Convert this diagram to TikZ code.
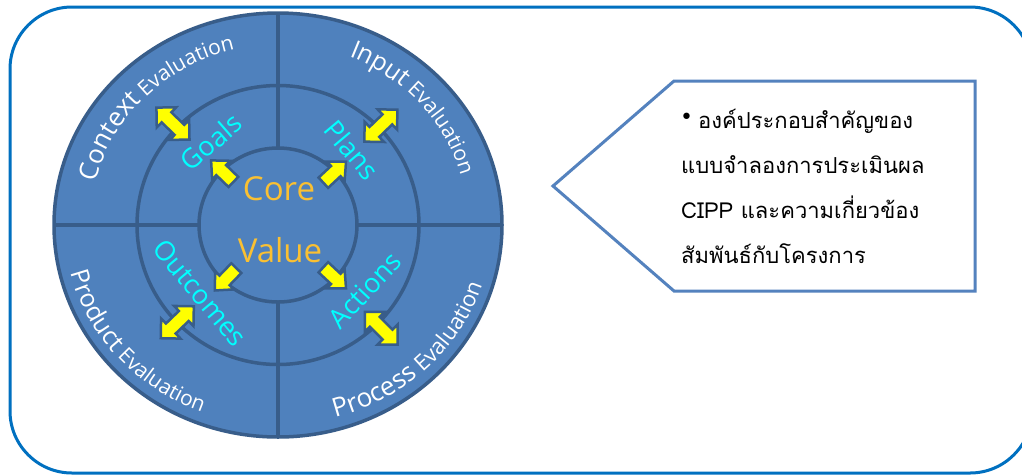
\documentclass[tikz,border=0pt]{standalone}
\usepackage{fontspec}
\setmainfont{Open Sans}
\newfontfamily\labelfont{Open Sans}
\newfontfamily\thaifont[Script=Thai]{Loma}
\newfontfamily\symfont{DejaVu Sans}
\usetikzlibrary{decorations.text,calc}
\definecolor{ringfill}{RGB}{79,129,189}
\definecolor{ringline}{RGB}{56,93,138}
\definecolor{boxblue}{RGB}{0,112,192}
\definecolor{calloutblue}{RGB}{84,130,190}
\definecolor{coregold}{RGB}{250,192,50}
\definecolor{labelcyan}{RGB}{0,255,255}
\definecolor{arrowyellow}{RGB}{255,255,0}
\tikzset{
  ringstroke/.style={draw=ringline, line width=3.5pt},
  arrowline/.style={draw=ringline, line width=2.5pt, fill=arrowyellow, line join=miter},
  innerlabel/.style={text=labelcyan, font=\labelfont\fontsize{27}{27}\selectfont, inner sep=0pt},
  corelabel/.style={text=coregold, font=\labelfont\fontsize{33}{33}\selectfont, inner sep=0pt},
  thailine/.style={anchor=base west, inner sep=0pt, font=\thaifont\fontsize{22}{22}\selectfont, text=black},
  dblarrow/.pic={
    \draw[arrowline] (-23,0) -- (-9,14) -- (-9,7) -- (9,7) -- (9,14) -- (23,0)
      -- (9,-14) -- (9,-7) -- (-9,-7) -- (-9,-14) -- cycle;
  },
  sglarrow/.pic={
    \draw[arrowline] (16,0) -- (2,13) -- (2,7) -- (-15,7) -- (-15,-7)
      -- (2,-7) -- (2,-13) -- cycle;
  }
}
\begin{document}
\begin{tikzpicture}[x=1pt,y=1pt]
\useasboundingbox (0,0) rectangle (1022,-475);
\clip (0,0) rectangle (1022,-475);
\fill[white] (0,0) rectangle (1022,-475);
% outer rounded frame
\draw[boxblue, line width=3pt, rounded corners=62pt] (10,-7) rectangle (1032,-473);

% wheel
\coordinate (C) at (278,-225);
\draw[ringstroke, fill=ringfill] (C) ellipse [x radius=224, y radius=212];
\draw[ringstroke] (C) ellipse [x radius=141, y radius=139.5];
\draw[ringstroke] (C) ellipse [x radius=79, y radius=77];
\draw[ringstroke] ($(C)+(0,212)$) -- ($(C)+(0,77)$);
\draw[ringstroke] ($(C)+(0,-77)$) -- ($(C)+(0,-212)$);
\draw[ringstroke] ($(C)+(-224,0)$) -- ($(C)+(-79,0)$);
\draw[ringstroke] ($(C)+(79,0)$) -- ($(C)+(224,0)$);

% double arrows on the middle ring
\path (C) ++(136:146) pic[rotate=136] {dblarrow};
\path (C) ++(44:143) pic[rotate=44] {dblarrow};
\path (C) ++(224:140) pic[rotate=224] {dblarrow};
\path (C) ++(315:146) pic[rotate=315] {dblarrow};

% single arrows out of the core
\path (C) ++(136:77) pic[rotate=136] {sglarrow};
\path (C) ++(43:77) pic[rotate=43] {sglarrow};
\path (C) ++(226:75) pic[rotate=226] {sglarrow};
\path (C) ++(317:77) pic[rotate=317] {sglarrow};

% outer ring texts
\path[decorate, decoration={text along path, text align=center, text color=white,
  text={|\labelfont\fontsize{26}{26}\selectfont|Context|\labelfont\fontsize{21}{21}\selectfont| Evaluation}}]
  (C) ++(178:188 and 180) arc[start angle=178, end angle=92, x radius=188, y radius=180];
\path[decorate, decoration={text along path, text align=center, text color=white,
  text={|\labelfont\fontsize{25}{25}\selectfont|Input|\labelfont\fontsize{21}{21}\selectfont| Evaluation}}]
  (C) ++(86:190 and 182) arc[start angle=86, end angle=-3, x radius=190, y radius=182];
\path[decorate, decoration={text along path, text align=center, text color=white,
  text={|\labelfont\fontsize{25}{25}\selectfont|Product|\labelfont\fontsize{21}{21}\selectfont| Evaluation}}]
  (C) ++(178:214 and 200) arc[start angle=178, end angle=264, x radius=214, y radius=200];
\path[decorate, decoration={text along path, text align=center, text color=white,
  text={|\labelfont\fontsize{26}{26}\selectfont|Process|\labelfont\fontsize{22}{22}\selectfont| Evaluation}}]
  (C) ++(270:214 and 200) arc[start angle=270, end angle=359, x radius=214, y radius=200];

% middle ring labels
\node[innerlabel, rotate=41] (goals) at (211,-142) {Goals};
\node[innerlabel, rotate=-50] (plans) at (352,-150) {Plans};
\node[innerlabel, rotate=-50] (outcomes) at (200,-293) {Outcomes};
\node[innerlabel, rotate=47] (actions) at (365,-290) {Actions};

% core
\node[corelabel] (core) at (279,-189) {Core};
\node[corelabel] (value) at (280,-250) {Value};

% callout
\draw[calloutblue, line width=3pt, line join=miter, fill=white]
  (553,-186) -- (674,-81) -- (975,-81) -- (975,-291) -- (674,-291) -- cycle;
\node[thailine] (t1) at (680,-128) {{\symfont\fontsize{22}{22}\selectfont\raisebox{4pt}{•}}\hspace{5pt}องค์ประกอบสำคัญของ};
\node[thailine] (t2) at (681,-173) {แบบจำลองการประเมินผล};
\node[thailine] (t3) at (681,-218) {CIPP และความเกี่ยวข้อง};
\node[thailine] (t4) at (681,-263) {สัมพันธ์กับโครงการ};
\end{tikzpicture}
\end{document}
